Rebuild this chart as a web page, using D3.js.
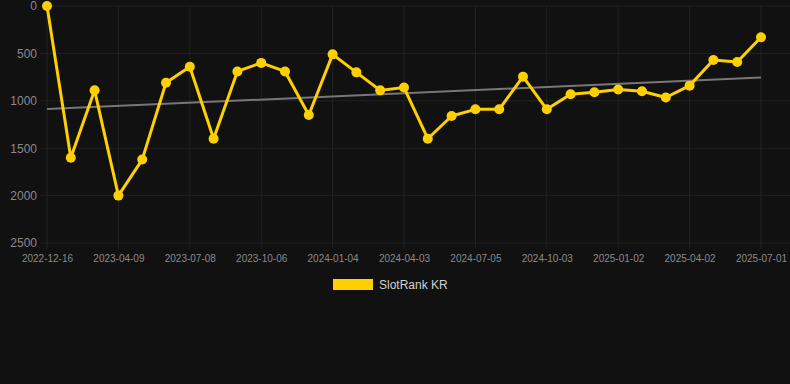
<!DOCTYPE html>
<html>
<head>
<meta charset="utf-8">
<script src="https://d3js.org/d3.v7.min.js"></script>
<style>
    html, body {
        margin: 0;
        padding: 0;
        background: #111111;
    }
    svg {
        display: block;
        font-family: "Liberation Sans", Arial, sans-serif;
    }
    .grid line {
        stroke: #222222;
        stroke-width: 1;
    }
    .axis text {
        fill: #8a8a8a;
    }
    .axis path, .axis line {
        display: none;
    }
</style>
</head>
<body>
<div id="chart"></div>
<script>
// Sample dates (category axis, every third one is labelled)
const dates = [
    '2022-12-16', '2023-01-23', '2023-03-02',
    '2023-04-09', '2023-05-09', '2023-06-08',
    '2023-07-08', '2023-08-07', '2023-09-06',
    '2023-10-06', '2023-11-05', '2023-12-05',
    '2024-01-04', '2024-02-03', '2024-03-04',
    '2024-04-03', '2024-05-04', '2024-06-04',
    '2024-07-05', '2024-08-04', '2024-09-03',
    '2024-10-03', '2024-11-02', '2024-12-02',
    '2025-01-02', '2025-01-31', '2025-03-02',
    '2025-04-02', '2025-05-02', '2025-06-01',
    '2025-07-01'
];

// SlotRank KR rank values
const ranks = [
    0, 1600, 890,
    2000, 1620, 810,
    640, 1400, 690,
    600, 690, 1150,
    510, 700, 890,
    860, 1400, 1160,
    1090, 1090, 745,
    1090, 930, 910,
    880, 900, 965,
    840, 570, 590,
    330
];

const yTicks = [0, 500, 1000, 1500, 2000, 2500];
const seriesName = 'SlotRank KR';

const width = 790, height = 384;
const margin = {top: 6, right: 29, bottom: 141, left: 47};
const innerW = width - margin.left - margin.right;
const innerH = height - margin.top - margin.bottom;

const svg = d3.select('#chart').append('svg')
    .attr('width', width)
    .attr('height', height);

const g = svg.append('g')
    .attr('transform', `translate(${margin.left},${margin.top})`);

const x = d3.scalePoint().domain(dates).range([0, innerW]);
const y = d3.scaleLinear().domain([0, 2500]).range([0, innerH]);

const labelDates = dates.filter((d, i) => i % 3 === 0);

// grid
g.append('g').attr('class', 'grid')
    .selectAll('line').data(yTicks).join('line')
    .attr('x1', -7).attr('x2', innerW + 29)
    .attr('y1', d => y(d)).attr('y2', d => y(d));

g.append('g').attr('class', 'grid')
    .selectAll('line').data(labelDates).join('line')
    .attr('x1', d => x(d)).attr('x2', d => x(d))
    .attr('y1', 0).attr('y2', innerH + 6);

// axes
g.append('g').attr('class', 'axis')
    .call(d3.axisLeft(y).tickValues(yTicks).tickFormat(d3.format('d')).tickSize(0).tickPadding(10))
    .selectAll('text').style('font-size', '12px');

g.append('g').attr('class', 'axis')
    .attr('transform', `translate(0,${innerH})`)
    .call(d3.axisBottom(x).tickValues(labelDates).tickSize(0).tickPadding(12))
    .selectAll('text').style('font-size', '10px');

// trend line (least squares over index)
const n = ranks.length;
const mx = d3.mean(ranks, (d, i) => i);
const my = d3.mean(ranks);
const slope = d3.sum(ranks, (d, i) => (i - mx) * (d - my)) / d3.sum(ranks, (d, i) => (i - mx) ** 2);
const icpt = my - slope * mx;
g.append('line')
    .attr('x1', x(dates[0])).attr('y1', y(icpt))
    .attr('x2', x(dates[n - 1])).attr('y2', y(icpt + slope * (n - 1)))
    .attr('stroke', '#777')
    .attr('stroke-width', 2);

// series
const line = d3.line()
    .x((d, i) => x(dates[i]))
    .y(d => y(d));

g.append('path')
    .datum(ranks)
    .attr('fill', 'none')
    .attr('stroke', '#ffd000')
    .attr('stroke-width', 3)
    .attr('stroke-linejoin', 'round')
    .attr('d', line);

g.selectAll('.dot').data(ranks).join('circle')
    .attr('class', 'dot')
    .attr('cx', (d, i) => x(dates[i]))
    .attr('cy', d => y(d))
    .attr('r', 5)
    .attr('fill', '#ffd000');

// legend
const legend = svg.append('g').attr('transform', 'translate(333,279)');
legend.append('rect')
    .attr('width', 40).attr('height', 11)
    .attr('fill', '#ffd000');
legend.append('text')
    .attr('x', 46).attr('y', 10)
    .attr('fill', '#d0d0d0')
    .style('font-size', '12px')
    .text(seriesName);
</script>
</body>
</html>
